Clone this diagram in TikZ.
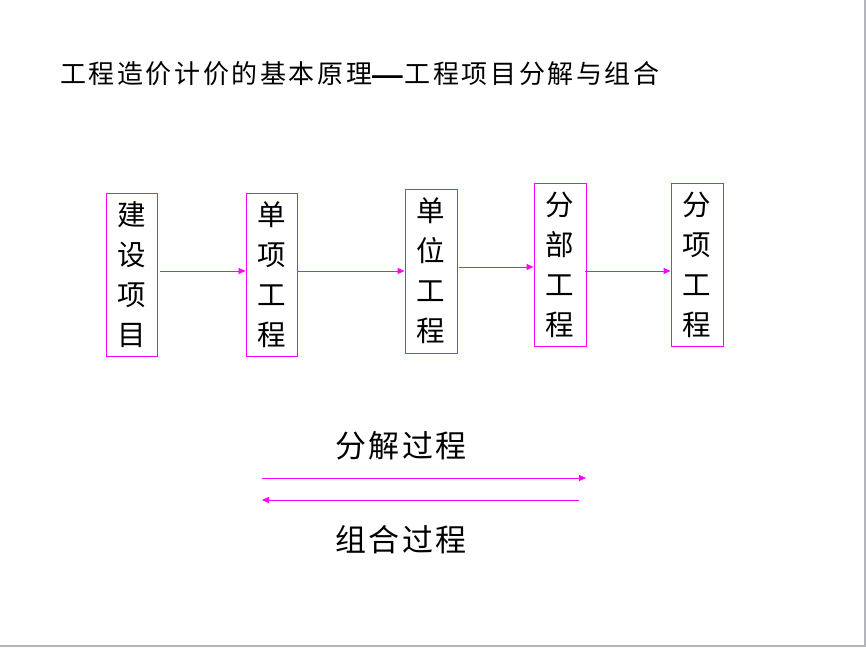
\documentclass[tikz,border=0pt]{standalone}
\usepackage{fontspec}
\usepackage{graphicx}
\newfontfamily\cjk{Noto Sans CJK SC}
\newfontfamily\dashfnt[FakeBold=3.5]{Noto Sans CJK SC}
\usetikzlibrary{arrows.meta}
\definecolor{mag}{HTML}{FF00FF}
\definecolor{edgegray}{HTML}{B4B4BC}
\begin{document}
\begin{tikzpicture}[x=1pt,y=-1pt,
  boxnode/.style={draw=mag,line width=0.9pt,inner sep=0pt,minimum width=51pt,minimum height=163pt,align=center,font=\cjk\fontsize{28.5}{40}\selectfont},
  arr/.style={draw=mag,line width=0.9pt,-{Triangle[length=7pt,width=6pt]}},
  lbl/.style={inner sep=0pt,font=\cjk\fontsize{31}{36}\selectfont\addfontfeatures{LetterSpace=7}},
  ttl/.style={inner sep=0pt,anchor=west,font=\cjk\fontsize{26}{30}\selectfont\addfontfeatures{LetterSpace=10}}]
\useasboundingbox (0,0) rectangle (866,647);
\fill[white] (0,0) rectangle (866,647);
\draw[edgegray,line width=2pt] (865,0) -- (865,646) -- (0,646);

\node[ttl] (title) at (60,74) {工程造价计价的基本原理\kern-1pt\scalebox{1.4}[1]{\dashfnt —}\kern1pt 工程项目分解与组合};

\node[boxnode] (b1) at (131.5,274.5) {建\\设\\项\\目};
\node[boxnode] (b2) at (271.5,274.5) {单\\项\\工\\程};
\node[boxnode,minimum width=52pt,minimum height=164pt] (b3) at (431,271) {单\\位\\工\\程};
\node[boxnode,minimum width=52pt] (b4) at (560,264.5) {分\\部\\工\\程};
\node[boxnode,minimum width=52pt] (b5) at (697,264.5) {分\\项\\工\\程};

\draw[arr] ([xshift=3pt,yshift=3.5pt]b1.east) -- ([yshift=3.5pt]b2.west);
\draw[arr] (b2.east |- b3.west) -- (b3.west);
\draw[arr] ([xshift=2pt,yshift=4pt]b3.east) -- ([yshift=-2.5pt]b4.west);
\draw[arr] ([xshift=-1pt,yshift=-6.5pt]b4.east) -- ([yshift=-6.5pt]b5.west);

\node[lbl] (fj) at (401,446) {分解过程};
\node[lbl] (zh) at (401,540) {组合过程};

\coordinate (d1) at (262,478);
\coordinate (d2) at (586,478);
\coordinate (c1) at (579,500);
\coordinate (c2) at (262,500);
\draw[arr] (d1) -- (d2);
\draw[arr] (c1) -- (c2);
\end{tikzpicture}
\end{document}
